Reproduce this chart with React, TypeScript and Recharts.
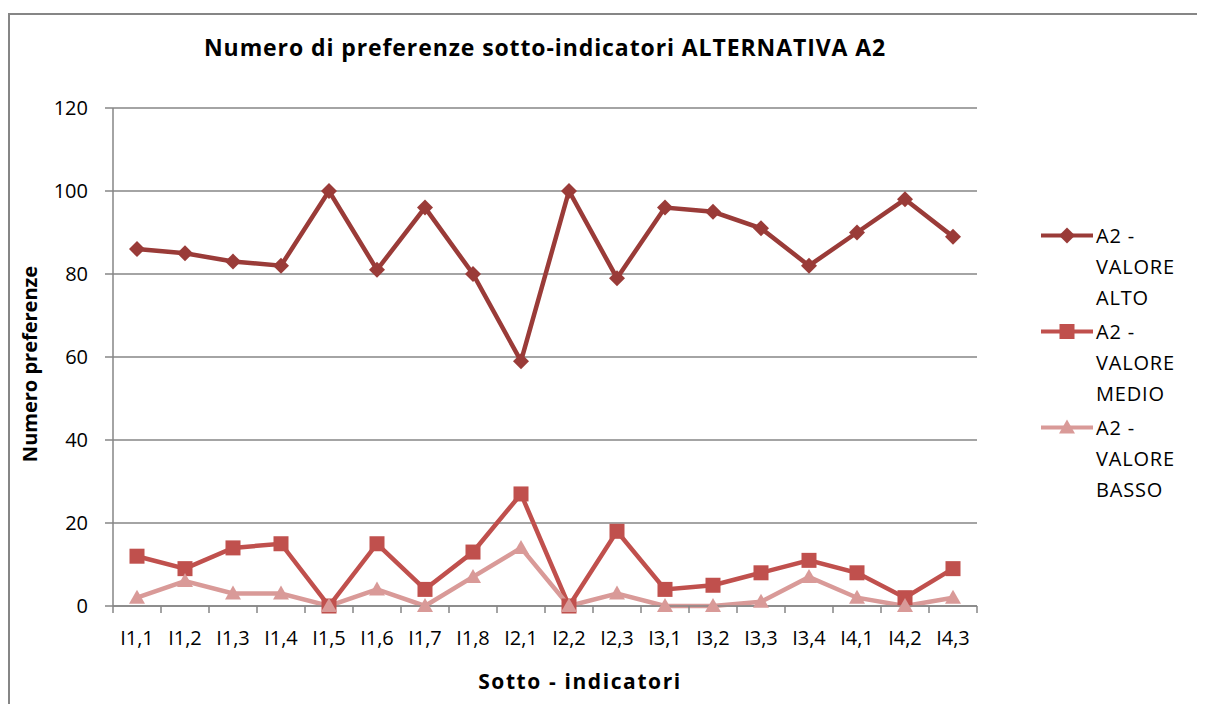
import { LineChart, Line, XAxis, YAxis, CartesianGrid } from 'recharts'

const CATEGORIES = ['I1,1', 'I1,2', 'I1,3', 'I1,4', 'I1,5', 'I1,6', 'I1,7', 'I1,8', 'I2,1', 'I2,2', 'I2,3', 'I3,1', 'I3,2', 'I3,3', 'I3,4', 'I4,1', 'I4,2', 'I4,3']
const ALTO = [86, 85, 83, 82, 100, 81, 96, 80, 59, 100, 79, 96, 95, 91, 82, 90, 98, 89]
const MEDIO = [12, 9, 14, 15, 0, 15, 4, 13, 27, 0, 18, 4, 5, 8, 11, 8, 2, 9]
const BASSO = [2, 6, 3, 3, 0, 4, 0, 7, 14, 0, 3, 0, 0, 1, 7, 2, 0, 2]
const Y_TICKS = [0, 20, 40, 60, 80, 100, 120]

const SERIES = [
  { key: 'alto', name: 'A2 - VALORE ALTO', color: '#9a3b38', shape: 'diamond' },
  { key: 'medio', name: 'A2 - VALORE MEDIO', color: '#c0504d', shape: 'square' },
  { key: 'basso', name: 'A2 - VALORE BASSO', color: '#d99a98', shape: 'triangle' },
]

const data = CATEGORIES.map((name, i) => ({ name, alto: ALTO[i], medio: MEDIO[i], basso: BASSO[i] }))

const FONT = '"Open Sans", "Liberation Sans", sans-serif'
const GRID = '#868686'

const W = 1197
const H = 691
const MARGIN = { top: 95, right: 228, bottom: 8, left: 0 }
const Y_AXIS_W = 105
const PLOT_W = W - MARGIN.left - MARGIN.right - Y_AXIS_W
const HALF_STEP = PLOT_W / CATEGORIES.length / 2

function Marker({ shape, cx, cy, color }: { shape: string; cx: number; cy: number; color: string }) {
  if (shape === 'diamond') {
    const r = 8
    return <polygon points={`${cx},${cy - r} ${cx + r},${cy} ${cx},${cy + r} ${cx - r},${cy}`} fill={color} />
  }
  if (shape === 'square') {
    const r = 7.5
    return <rect x={cx - r} y={cy - r} width={r * 2} height={r * 2} fill={color} />
  }
  const r = 8
  return <polygon points={`${cx},${cy - r} ${cx + r},${cy + r * 0.75} ${cx - r},${cy + r * 0.75}`} fill={color} />
}

// category label plus Excel-style tick marks on the band boundaries
function CategoryTick({ x, y, payload, index }: any) {
  const last = index === CATEGORIES.length - 1
  return (
    <g>
      <line x1={x - HALF_STEP} y1={y} x2={x - HALF_STEP} y2={y + 7} stroke={GRID} strokeWidth={1.5} />
      {last && <line x1={x + HALF_STEP} y1={y} x2={x + HALF_STEP} y2={y + 7} stroke={GRID} strokeWidth={1.5} />}
      <text x={x} y={y + 31} textAnchor="middle" dominantBaseline="central" fontSize={20} fontFamily={FONT} fill="#000">
        {payload.value}
      </text>
    </g>
  )
}

function LegendBox() {
  return (
    <div style={{ position: 'absolute', left: 1032, top: 207, fontFamily: FONT, fontSize: 20, color: '#000' }}>
      {SERIES.map(s => {
        const words = s.name.split(' ')
        const lines = [words.slice(0, 2).join(' '), words[2], words[3]]
        return (
          <div key={s.key} style={{ display: 'flex', alignItems: 'flex-start', marginBottom: 3 }}>
            <svg width={56} height={31} style={{ flexShrink: 0 }}>
              <line x1={1} y1={15.5} x2={53} y2={15.5} stroke={s.color} strokeWidth={4} />
              <Marker shape={s.shape} cx={27} cy={15.5} color={s.color} />
            </svg>
            <div style={{ lineHeight: '31px', letterSpacing: 0.8 }}>
              {lines.map(l => <div key={l}>{l}</div>)}
            </div>
          </div>
        )
      })}
    </div>
  )
}

export default function App() {
  return (
    <div style={{ position: 'relative', width: W, height: H, marginTop: 5, background: '#fff' }}>
      <div
        style={{
          position: 'absolute', left: 0, top: 0, right: 0, bottom: 0,
          borderTop: `2px solid ${GRID}`, borderLeft: `2px solid ${GRID}`, pointerEvents: 'none',
        }}
      />
      <div
        style={{
          position: 'absolute', left: 105, width: 864, top: 18, textAlign: 'center',
          fontFamily: FONT, fontWeight: 700, fontSize: 23, letterSpacing: 0.9, color: '#000',
        }}
      >
        Numero di  preferenze sotto-indicatori ALTERNATIVA A2
      </div>
      <LineChart width={W} height={H} data={data} margin={MARGIN}>
        <CartesianGrid vertical={false} stroke={GRID} strokeWidth={1.5} />
        <XAxis
          dataKey="name"
          height={90}
          padding={{ left: HALF_STEP, right: HALF_STEP }}
          tickLine={false}
          tickSize={0}
          tickMargin={0}
          axisLine={{ stroke: GRID, strokeWidth: 1.5 }}
          tick={<CategoryTick />}
          interval={0}
          label={{ value: 'Sotto - indicatori', position: 'insideBottom', offset: 7, dx: 35, fontSize: 21, letterSpacing: 1.6, fontWeight: 700, fill: '#000', fontFamily: FONT }}
        />
        <YAxis
          width={Y_AXIS_W}
          domain={[0, 120]}
          ticks={Y_TICKS}
          tickSize={8}
          tickMargin={17}
          axisLine={{ stroke: GRID, strokeWidth: 1.5 }}
          tickLine={{ stroke: GRID, strokeWidth: 1.5 }}
          tick={{ fontSize: 20, fill: '#000', fontFamily: FONT }}
          label={{ value: 'Numero preferenze', angle: -90, position: 'center', dx: -31, dy: 7, fontSize: 20, fontWeight: 700, fill: '#000', fontFamily: FONT }}
        />
        {SERIES.map(s => (
          <Line
            key={s.key}
            dataKey={s.key}
            name={s.name}
            type="linear"
            stroke={s.color}
            strokeWidth={4.5}
            isAnimationActive={false}
            dot={(p: any) => <Marker key={p.index} shape={s.shape} cx={p.cx} cy={p.cy} color={s.color} />}
            activeDot={false}
          />
        ))}
      </LineChart>
      <LegendBox />
    </div>
  )
}
